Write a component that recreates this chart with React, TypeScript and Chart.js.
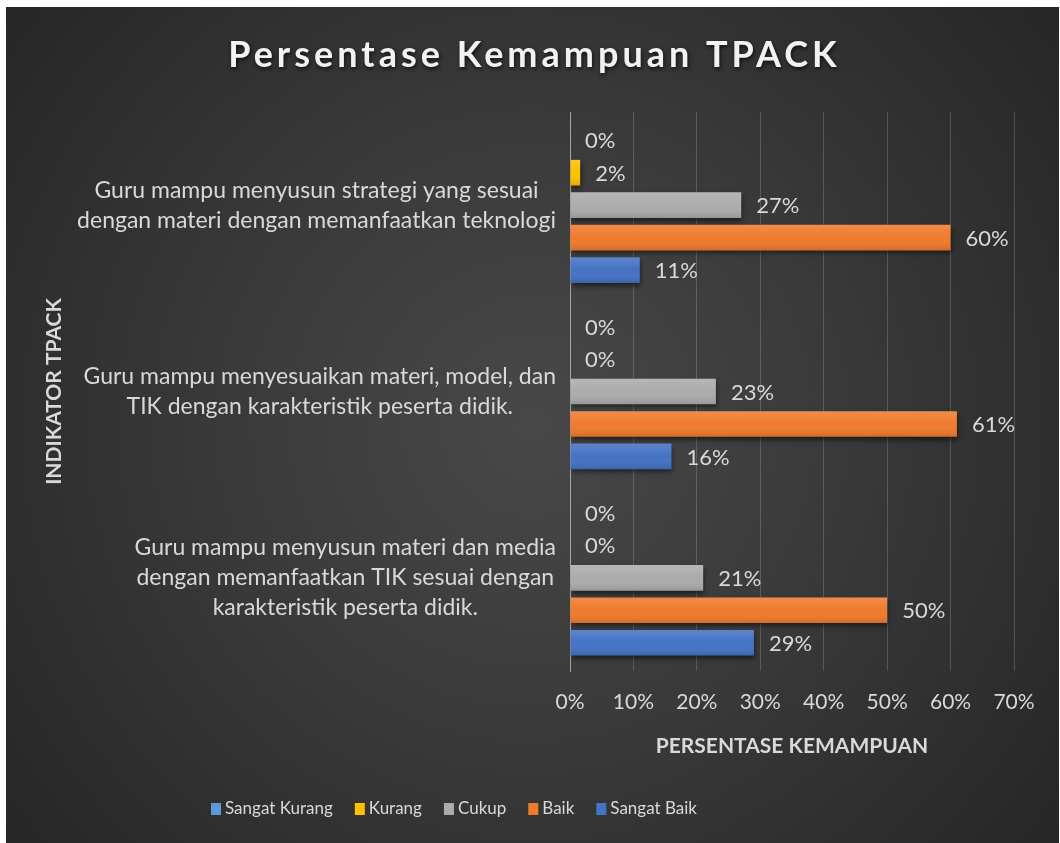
import React, { useEffect, useRef } from "react";
import { Chart, registerables } from "chart.js";

Chart.register(...registerables);

// ---- data ----
const categories: string[][] = [
  ["Guru mampu menyusun strategi yang sesuai", "dengan materi dengan memanfaatkan teknologi"],
  ["Guru mampu menyesuaikan materi, model, dan", "TIK dengan karakteristik peserta didik."],
  ["Guru mampu menyusun materi dan media", "dengan memanfaatkan TIK sesuai dengan", "karakteristik peserta didik."],
];
const seriesNames = ["Sangat Kurang", "Kurang", "Cukup", "Baik", "Sangat Baik"];
const seriesColors = ["#5B9BD5", "#FFC000", "#ABABAB", "#F07A2C", "#4472C4"];
const sangatKurang = [0, 0, 0];
const kurang = [1.6, 0, 0];
const cukup = [27, 23, 21];
const baik = [60, 61, 50];
const sangatBaik = [11, 16, 29];
const xTickValues = [0, 10, 20, 30, 40, 50, 60, 70];
const chartTitle = "Persentase Kemampuan TPACK";
const xAxisTitle = "PERSENTASE KEMAMPUAN";
const yAxisTitle = "INDIKATOR TPACK";

const FONT = "Lato, 'Open Sans', sans-serif";
const TEXT = "#d9d9d9";

const decorPlugin = {
  id: "decor",
  beforeDatasetsDraw(chart: any) {
    const ctx = chart.ctx;
    ctx.save();
    ctx.shadowColor = "rgba(0,0,0,0.55)";
    ctx.shadowBlur = 5;
    ctx.shadowOffsetX = 1;
    ctx.shadowOffsetY = 3;
  },
  afterDatasetsDraw(chart: any) {
    const ctx = chart.ctx;
    ctx.restore();
    // subtle shading on bars (lighter top, darker bottom)
    ctx.save();
    chart.data.datasets.forEach((ds: any, i: number) => {
      const meta = chart.getDatasetMeta(i);
      meta.data.forEach((bar: any) => {
        const w = bar.x - bar.base;
        if (w <= 0) return;
        const top = bar.y - bar.height / 2;
        const g = ctx.createLinearGradient(0, top, 0, top + bar.height);
        g.addColorStop(0, "rgba(255,255,255,0.14)");
        g.addColorStop(0.5, "rgba(255,255,255,0.0)");
        g.addColorStop(1, "rgba(0,0,0,0.12)");
        ctx.fillStyle = g;
        ctx.fillRect(bar.base, top, w, bar.height);
      });
    });
    ctx.restore();
    // data labels
    ctx.save();
    ctx.font = `22px ${FONT}`;
    ctx.fillStyle = TEXT;
    ctx.textAlign = "left";
    ctx.textBaseline = "middle";
    chart.data.datasets.forEach((ds: any, i: number) => {
      const meta = chart.getDatasetMeta(i);
      meta.data.forEach((bar: any, j: number) => {
        const v = ds.data[j];
        ctx.fillText(Math.round(v) + "%", bar.x + 15, bar.y + 1);
      });
    });
    ctx.restore();
  },
  afterDraw(chart: any) {
    const ctx = chart.ctx;
    const area = chart.chartArea;
    // title
    ctx.save();
    ctx.font = `bold 36px ${FONT}`;
    (ctx as any).letterSpacing = "4px";
    ctx.textAlign = "center";
    ctx.textBaseline = "alphabetic";
    ctx.shadowColor = "rgba(0,0,0,0.7)";
    ctx.shadowBlur = 4;
    ctx.shadowOffsetX = 1;
    ctx.shadowOffsetY = 2;
    ctx.fillStyle = "#f2f2f2";
    ctx.fillText(chartTitle, chart.width / 2 + 2, 60);
    ctx.restore();

    // category labels (each line centred within its block)
    ctx.save();
    ctx.font = `23px ${FONT}`;
    ctx.fillStyle = TEXT;
    ctx.textAlign = "center";
    ctx.textBaseline = "middle";
    const yScale = chart.scales.y;
    categories.forEach((lines, i) => {
      const cy = yScale.getPixelForValue(i);
      const w = Math.max(...lines.map((l) => ctx.measureText(l).width));
      const right = area.left - 14;
      const cx = right - w / 2;
      const lh = 30;
      lines.forEach((l, k) => {
        ctx.fillText(l, cx, cy + (k - (lines.length - 1) / 2) * lh);
      });
    });
    ctx.restore();

    // legend
    ctx.save();
    ctx.font = `17px ${FONT}`;
    ctx.textBaseline = "middle";
    ctx.textAlign = "left";
    const marker = 10;
    const gapMT = 4;
    const gapItem = 22;
    const widths = seriesNames.map((n) => marker + gapMT + ctx.measureText(n).width);
    const total = widths.reduce((a, b) => a + b, 0) + gapItem * (widths.length - 1);
    let x = 448 - total / 2;
    const ly = 802;
    chart.data.datasets.forEach((ds: any, i: number) => {
      ctx.fillStyle = ds.backgroundColor;
      ctx.fillRect(x, ly - 6, marker, 12);
      ctx.fillStyle = TEXT;
      ctx.fillText(ds.label, x + marker + gapMT, ly);
      x += widths[i] + gapItem;
    });
    ctx.restore();
  },
};

export default function App() {
  const canvasRef = useRef<HTMLCanvasElement | null>(null);

  useEffect(() => {
    if (!canvasRef.current) return;
    const seriesValues = [sangatKurang, kurang, cukup, baik, sangatBaik];
    const chart = new Chart(canvasRef.current, {
      type: "bar",
      data: {
        labels: categories,
        datasets: seriesNames.map((name, i) => ({
          label: name,
          data: seriesValues[i],
          backgroundColor: seriesColors[i],
          borderWidth: 0,
          barPercentage: 0.79,
          categoryPercentage: 0.871,
        })),
      },
      options: {
        indexAxis: "y",
        animation: false,
        responsive: true,
        maintainAspectRatio: false,
        layout: { padding: { top: 105, right: 45, left: 0, bottom: 0 } },
        plugins: {
          legend: { display: false },
          title: { display: false },
          tooltip: { enabled: false },
        },
        scales: {
          x: {
            type: "linear",
            min: 0,
            max: 70,
            afterBuildTicks: (scale: any) => {
              scale.ticks = xTickValues.map((v) => ({ value: v }));
            },
            ticks: {
              callback: (v: any) => v + "%",
              color: TEXT,
              font: { family: FONT, size: 21 },
              padding: 19,
              maxRotation: 0,
            },
            grid: { color: "rgba(255,255,255,0.17)", lineWidth: 1, drawTicks: false },
            border: { display: false },
            title: {
              display: true,
              text: xAxisTitle,
              color: TEXT,
              font: { family: FONT, size: 21, weight: "bold" },
              padding: { top: 0, bottom: 84 },
            },
            afterFit: (scale: any) => {
              scale.height = 172;
            },
          },
          y: {
            type: "category",
            ticks: { display: false },
            grid: { display: false },
            border: { display: true, color: "#a6a6a6", width: 1 },
            title: {
              display: true,
              text: yAxisTitle,
              color: TEXT,
              font: { family: FONT, size: 21, weight: "bold" },
              padding: { top: 36, bottom: 0 },
            },
            afterFit: (scale: any) => {
              scale.width = 564;
            },
          },
        },
      },
      plugins: [decorPlugin],
    });
    return () => chart.destroy();
  }, []);

  return (
    <div
      style={{
        position: "absolute",
        left: 6,
        top: 7,
        width: 1053,
        height: 836,
        background: "radial-gradient(circle farthest-corner at 50% 50%, #484848 0%, #3a3a3a 45%, #262626 100%)",
      }}
    >
      <canvas ref={canvasRef} />
    </div>
  );
}
